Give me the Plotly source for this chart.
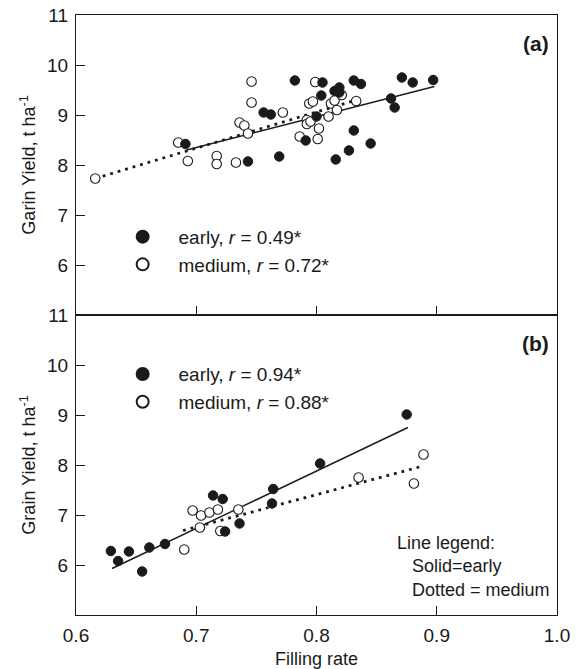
import plotly.graph_objects as go

# ---- Panel (a) data ----
a_early_x = [0.691, 0.743, 0.756, 0.762, 0.769, 0.782, 0.791, 0.800, 0.804, 0.805, 0.815, 0.816,
             0.819, 0.819, 0.827, 0.831, 0.831, 0.837, 0.845, 0.862, 0.865, 0.871, 0.880, 0.897]
a_early_y = [8.42, 8.07, 9.05, 9.01, 8.17, 9.69, 8.49, 8.97, 9.39, 9.65, 9.48, 8.11,
             9.55, 9.45, 8.29, 9.69, 8.69, 9.62, 8.43, 9.33, 9.15, 9.75, 9.65, 9.70]
a_med_x = [0.616, 0.685, 0.693, 0.717, 0.717, 0.733, 0.736, 0.740, 0.743, 0.746, 0.746, 0.772,
           0.786, 0.792, 0.792, 0.794, 0.795, 0.797, 0.799, 0.801, 0.802, 0.810, 0.812, 0.815,
           0.817, 0.821, 0.833]
a_med_y = [7.73, 8.45, 8.08, 8.18, 8.02, 8.05, 8.85, 8.79, 8.63, 9.25, 9.67, 9.05,
           8.57, 8.90, 8.82, 9.23, 8.87, 9.27, 9.66, 8.52, 8.73, 8.97, 9.23, 9.29,
           9.10, 9.40, 9.28]
a_fit_early_x = [0.692, 0.898]
a_fit_early_y = [8.30, 9.57]
a_fit_med_x = [0.616, 0.833]
a_fit_med_y = [7.73, 9.30]

# ---- Panel (b) data ----
b_early_x = [0.629, 0.635, 0.644, 0.655, 0.661, 0.674, 0.714, 0.722, 0.724, 0.736, 0.763, 0.764, 0.803, 0.875]
b_early_y = [6.28, 6.08, 6.27, 5.87, 6.35, 6.42, 7.39, 7.32, 6.67, 6.83, 7.23, 7.52, 8.03, 9.01]
b_med_x = [0.690, 0.697, 0.703, 0.704, 0.711, 0.718, 0.720, 0.735, 0.835, 0.881, 0.889]
b_med_y = [6.31, 7.09, 6.75, 6.99, 7.05, 7.11, 6.68, 7.11, 7.75, 7.63, 8.21]
b_fit_early_x = [0.630, 0.876]
b_fit_early_y = [5.93, 8.75]
b_fit_med_x = [0.689, 0.887]
b_fit_med_y = [6.69, 7.97]

x_tickvals = [0.6, 0.7, 0.8, 0.9, 1.0]
x_ticktext = ["0.6", "0.7", "0.8", "0.9", "1.0"]
y_tickvals = [6, 7, 8, 9, 10, 11]

FONT = "Liberation Sans, Arial, sans-serif"
INK = "#1a1a1a"
PAD = "\u00a0\u00a0\u00a0"

fig = go.Figure()

def add_panel(xa, ya, ex, ey, mx, my, fex, fey, fmx, fmy, r_e, r_m, leg):
    fig.add_trace(go.Scatter(x=fex, y=fey, mode="lines", xaxis=xa, yaxis=ya,
                             line=dict(color=INK, width=1.4), showlegend=False))
    fig.add_trace(go.Scatter(x=fmx, y=fmy, mode="lines", xaxis=xa, yaxis=ya,
                             line=dict(color=INK, width=2.8, dash="2.8px,5px"), showlegend=False))
    fig.add_trace(go.Scatter(x=mx, y=my, mode="markers", xaxis=xa, yaxis=ya,
                             name=PAD + "medium, <i>r</i> = %s*" % r_m, legend=leg, legendrank=2,
                             marker=dict(symbol="circle", size=9.5, color="white",
                                         line=dict(color=INK, width=1.1))))
    fig.add_trace(go.Scatter(x=ex, y=ey, mode="markers", xaxis=xa, yaxis=ya,
                             name=PAD + "early, <i>r</i> = %s*" % r_e, legend=leg, legendrank=1,
                             marker=dict(symbol="circle", size=9.5, color=INK,
                                         line=dict(color=INK, width=1))))

add_panel("x", "y", a_early_x, a_early_y, a_med_x, a_med_y,
          a_fit_early_x, a_fit_early_y, a_fit_med_x, a_fit_med_y, "0.49", "0.72", "legend")
add_panel("x2", "y2", b_early_x, b_early_y, b_med_x, b_med_y,
          b_fit_early_x, b_fit_early_y, b_fit_med_x, b_fit_med_y, "0.94", "0.88", "legend2")

axis_common = dict(showgrid=False, zeroline=False, showline=True, linecolor=INK,
                   linewidth=1.2, mirror=True, ticks="inside", ticklen=9, tickcolor=INK,
                   tickwidth=1.2, tickfont=dict(family=FONT, size=19, color=INK),
                   automargin=False)

xa = dict(axis_common, range=[0.6, 1.0], tickvals=x_tickvals, ticktext=x_ticktext,
          ticklabelstandoff=3)
ya = dict(axis_common, range=[5, 11], tickvals=y_tickvals, ticklabelstandoff=3)

leg_common = dict(font=dict(family=FONT, size=19, color=INK), bgcolor="rgba(0,0,0,0)",
                  itemwidth=30, tracegroupgap=0, xanchor="left", yanchor="middle",
                  traceorder="normal", itemsizing="constant")

fig.update_layout(
    width=582, height=669,
    margin=dict(l=76, r=25, t=15, b=54, autoexpand=False),
    paper_bgcolor="white", plot_bgcolor="white",
    font=dict(family=FONT, size=18, color=INK),
    xaxis=dict(xa, domain=[0, 1], anchor="y", showticklabels=False),
    yaxis=dict(ya, domain=[0.5, 1], anchor="x",
               title=dict(text="Garin Yield, t ha<sup>-1</sup>", font=dict(size=18), standoff=6)),
    xaxis2=dict(xa, domain=[0, 1], anchor="y2",
                title=dict(text="Filling rate", font=dict(size=18), standoff=11)),
    yaxis2=dict(ya, domain=[0, 0.5], anchor="x2",
                title=dict(text="Grain Yield, t ha<sup>-1</sup>", font=dict(size=18), standoff=6)),
    legend=dict(leg_common, x=0.097, y=0.607),
    legend2=dict(leg_common, x=0.097, y=0.378),
    annotations=[
        dict(text="<b>(a)</b>", xref="paper", yref="paper", x=0.988, y=0.952,
             xanchor="right", yanchor="middle", showarrow=False, font=dict(size=21, color=INK)),
        dict(text="<b>(b)</b>", xref="paper", yref="paper", x=0.988, y=0.452,
             xanchor="right", yanchor="middle", showarrow=False, font=dict(size=21, color=INK)),
        dict(text="Line legend:<br>\u00a0\u00a0\u00a0Solid=early<br>\u00a0\u00a0\u00a0Dotted = medium",
             xref="paper", yref="paper",
             x=0.99, y=0.022, xanchor="right", yanchor="bottom", align="left", showarrow=False,
             font=dict(size=18, color=INK)),
    ],
)

fig.write_html("out.html")
